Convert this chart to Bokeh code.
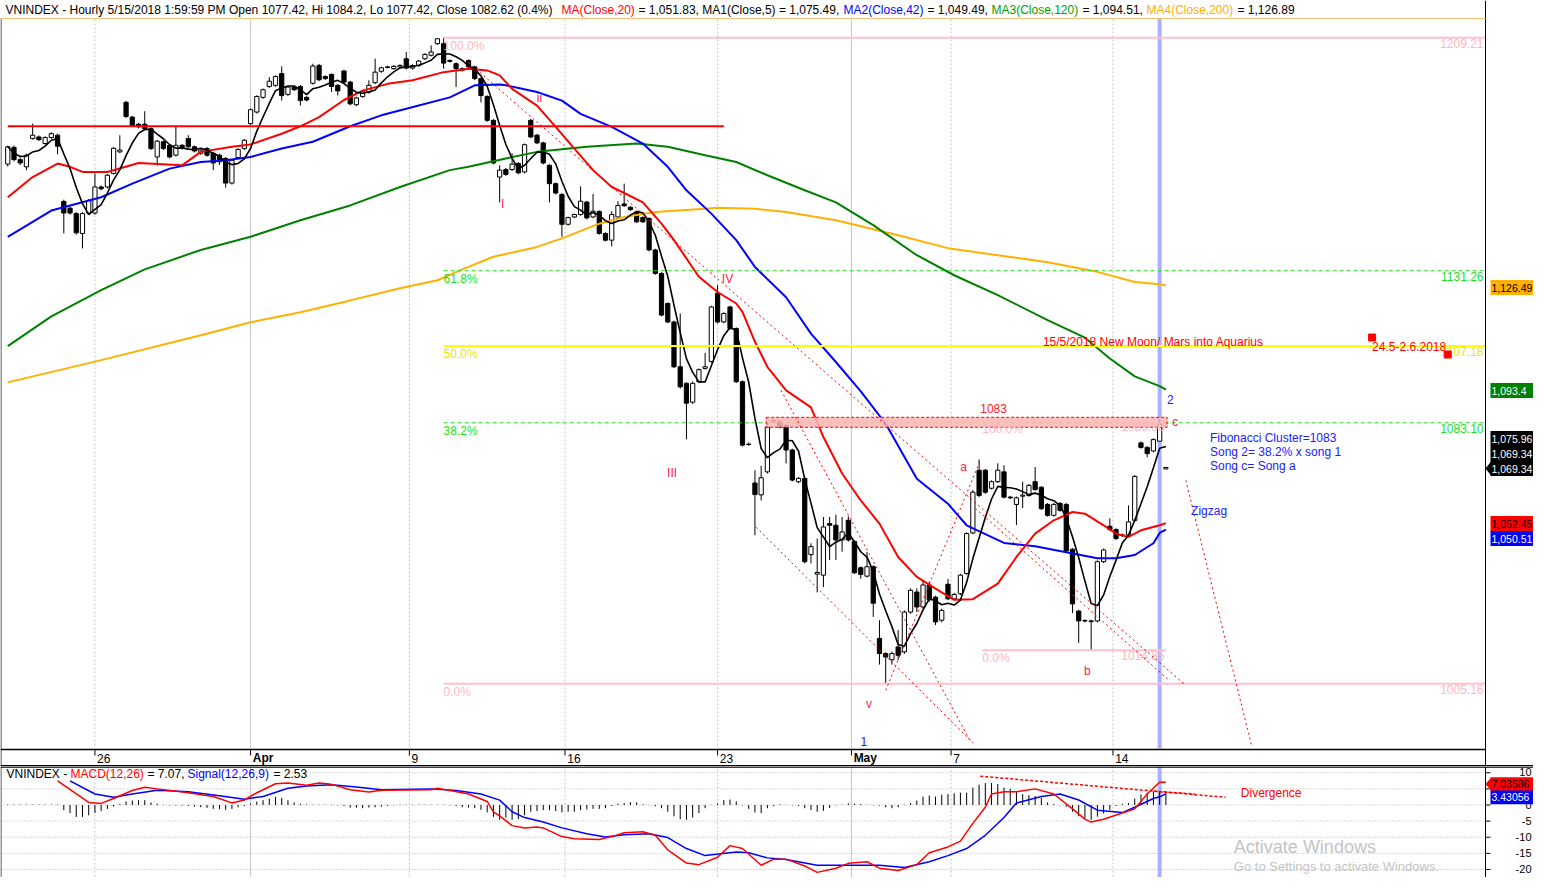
import math
import pandas as pd
from bokeh.plotting import figure
from bokeh.layouts import column
from bokeh.models import Range1d
from bokeh.embed import file_html
from bokeh.resources import INLINE
from bokeh.core.properties import value

# ---------------- DATA ----------------
bar_open = [1166.3,1171.9,1167.8,1165.4,1174.9,1175.4,1173.2,1175.2,1176.0,1153.9,
            1151.7,1149.9,1143.4,1150.1,1150.1,1158.7,1158.7,1163.2,1170.4,1187.1,
            1182.1,1179.7,1179.7,1178.2,1168.7,1173.8,1172.6,1169.3,1172.6,1174.9,
            1172.1,1169.9,1171.5,1169.9,1169.3,1168.2,1160.0,1168.5,1171.5,1179.9,
            1183.8,1188.8,1192.5,1192.9,1196.9,1189.8,1192.3,1192.5,1188.8,1193.6,
            1199.7,1195.9,1196.6,1192.9,1197.8,1194.0,1186.3,1189.1,1190.6,1193.8,
            1197.7,1199.2,1198.6,1199.2,1202.0,1198.8,1199.7,1202.0,1203.2,1207.2,
            1207.2,1201.4,1200.3,1198.6,1201.4,1199.2,1195.2,1189.1,1181.0,1162.0,
            1164.5,1164.5,1166.5,1163.7,1181.0,1176.0,1173.4,1165.9,1159.8,1156.2,
            1146.4,1148.8,1149.6,1153.7,1148.8,1150.6,1143.4,1141.2,1148.8,1153.1,
            1152.0,1150.4,1148.6,1148.3,1138.0,1130.4,1120.7,1114.8,1100.6,1095.4,
            1089.5,1095.9,1100.1,1102.3,1124.0,1114.8,1119.6,1112.7,1095.9,1076.5,
            1064.6,1061.0,1068.0,1083.4,1083.3,1082.3,1074.7,1065.0,1066.0,1043.0,
            1037.2,1036.9,1052.3,1051.8,1047.4,1053.3,1046.9,1039.1,1036.6,1039.4,
            1018.3,1013.9,1012.1,1015.8,1014.4,1026.0,1031.9,1027.5,1034.0,1030.4,
            1023.6,1034.2,1029.9,1031.4,1037.4,1049.5,1068.5,1068.5,1063.0,1065.0,
            1068.0,1060.3,1058.1,1060.6,1060.8,1065.0,1063.3,1058.1,1054.8,1058.4,
            1058.1,1044.6,1026.3,1023.5,1023.4,1023.4,1040.9,1051.5,1050.5,1048.9,
            1048.9,1053.3,1076.9,1075.5,1074.4,1077.42,1068.9]
bar_high = [1172.5,1172.5,1168.5,1169.8,1179.9,1175.9,1175.6,1177.0,1176.5,1154.5,
            1152.2,1150.4,1150.4,1154.7,1163.2,1159.2,1163.0,1172.0,1176.0,1187.6,
            1182.5,1180.1,1184.1,1178.6,1174.4,1174.2,1173.0,1179.0,1173.0,1176.0,
            1172.5,1171.4,1172.0,1170.3,1169.8,1168.7,1168.0,1171.6,1174.7,1185.0,
            1189.5,1191.8,1195.7,1196.3,1199.4,1192.7,1192.7,1193.0,1189.2,1200.3,
            1200.2,1196.3,1197.0,1193.3,1198.2,1194.4,1189.0,1191.3,1194.6,1202.0,
            1199.3,1199.6,1199.8,1200.1,1204.3,1200.1,1201.6,1203.9,1206.6,1209.0,
            1209.21,1201.8,1200.7,1199.0,1201.8,1199.6,1195.6,1189.5,1181.4,1165.9,
            1165.0,1169.9,1167.0,1173.2,1181.5,1176.4,1173.8,1166.3,1160.2,1156.7,
            1148.9,1149.9,1158.9,1154.1,1156.4,1151.0,1143.8,1150.7,1154.0,1159.8,
            1152.4,1150.8,1149.0,1148.7,1138.4,1130.8,1121.1,1115.2,1117.5,1095.8,
            1096.0,1100.1,1105.0,1120.0,1126.6,1117.9,1120.0,1113.1,1096.3,1077.0,
            1068.5,1069.9,1083.3,1084.4,1084.0,1082.7,1075.1,1066.4,1066.5,1046.4,
            1047.8,1054.3,1054.3,1055.0,1054.3,1054.5,1047.3,1039.5,1043.8,1039.8,
            1023.6,1014.3,1014.5,1020.7,1026.5,1033.0,1033.0,1035.5,1035.0,1030.8,
            1027.0,1035.8,1031.6,1037.3,1049.7,1062.5,1071.8,1068.9,1065.4,1070.6,
            1070.0,1060.7,1060.5,1065.0,1064.3,1069.5,1063.7,1058.5,1058.5,1058.8,
            1058.5,1045.0,1026.7,1023.9,1023.8,1041.3,1044.8,1053.9,1050.9,1049.3,
            1057.8,1067.0,1077.3,1075.9,1078.3,1084.2,1069.4]
bar_low = [1165.5,1167.2,1166.0,1164.3,1174.5,1174.0,1172.8,1174.8,1169.6,1143.4,
           1149.6,1143.0,1138.5,1149.5,1149.5,1157.6,1158.2,1162.8,1170.0,1181.8,
           1178.8,1178.3,1177.8,1171.0,1165.9,1171.0,1168.2,1168.8,1171.2,1171.7,
           1170.2,1169.4,1168.8,1164.3,1166.0,1158.5,1159.5,1168.0,1171.0,1179.4,
           1183.3,1188.3,1192.0,1192.4,1187.7,1189.3,1191.0,1186.0,1187.4,1193.1,
           1194.3,1194.7,1190.6,1189.4,1193.5,1186.1,1185.8,1188.6,1190.1,1193.3,
           1197.2,1198.7,1198.2,1198.8,1198.3,1198.3,1199.2,1201.6,1202.8,1206.8,
           1198.6,1200.7,1192.3,1197.6,1198.7,1194.7,1187.1,1180.5,1166.2,1153.6,
           1162.4,1164.0,1162.9,1163.2,1175.0,1173.0,1166.2,1153.6,1156.2,1142.3,
           1146.0,1148.4,1149.2,1148.0,1148.4,1143.0,1140.8,1139.2,1148.4,1152.1,
           1150.8,1146.8,1146.8,1137.6,1130.0,1116.6,1114.4,1100.2,1093.8,1078.0,
           1089.0,1095.5,1099.7,1101.8,1114.3,1114.4,1112.3,1095.5,1075.8,1076.0,
           1048.8,1059.3,1067.5,1083.0,1081.4,1070.6,1065.1,1064.5,1040.4,1040.4,
           1031.8,1033.4,1041.4,1041.4,1043.9,1046.9,1037.2,1035.8,1036.2,1024.6,
           1010.7,1005.16,1010.7,1012.0,1013.8,1025.5,1026.0,1027.0,1029.0,1022.2,
           1023.0,1029.5,1029.5,1031.0,1037.0,1049.1,1060.3,1061.3,1062.6,1064.6,
           1059.9,1059.7,1051.9,1057.0,1060.4,1062.2,1056.4,1054.4,1054.4,1055.9,
           1043.7,1025.7,1017.0,1023.0,1014.85,1023.0,1040.5,1050.1,1047.4,1048.3,
           1048.5,1052.9,1075.1,1072.5,1074.0,1077.42,1068.9]
bar_close = [1172.1,1167.8,1166.7,1169.3,1176.0,1174.5,1175.2,1176.5,1172.3,1150.1,
             1150.1,1143.6,1149.9,1154.2,1158.7,1158.1,1162.6,1171.6,1171.0,1182.3,
             1179.3,1178.8,1178.2,1171.5,1174.0,1171.5,1168.7,1172.6,1171.7,1172.1,
             1170.7,1171.0,1169.3,1166.7,1167.1,1160.0,1167.6,1171.2,1174.3,1184.6,
             1189.1,1191.4,1194.3,1195.9,1189.4,1192.3,1191.4,1187.7,1187.9,1199.5,
             1194.8,1195.2,1192.5,1191.0,1194.0,1186.6,1188.6,1190.9,1192.9,1197.4,
             1198.9,1199.0,1199.4,1199.7,1198.8,1199.7,1201.2,1203.5,1204.3,1208.9,
             1200.5,1201.1,1198.6,1198.1,1199.2,1195.2,1189.4,1181.0,1166.7,1164.3,
             1162.9,1166.3,1163.4,1172.8,1175.4,1173.4,1166.7,1159.8,1156.7,1146.4,
             1148.6,1149.6,1154.0,1148.5,1150.7,1143.4,1141.2,1149.6,1152.6,1152.5,
             1151.2,1147.2,1147.2,1138.0,1130.4,1117.0,1114.8,1100.6,1094.3,1089.2,
             1095.4,1099.7,1100.6,1119.6,1114.8,1117.5,1112.7,1095.9,1076.2,1076.4,
             1061.1,1066.2,1081.8,1083.9,1081.8,1074.7,1065.5,1066.0,1040.9,1045.4,
             1037.7,1051.3,1051.8,1047.4,1049.8,1047.4,1037.6,1037.1,1039.4,1028.6,
             1013.9,1012.9,1013.9,1013.4,1026.0,1032.4,1027.5,1034.0,1029.6,1023.1,
             1026.5,1029.9,1031.2,1036.9,1049.3,1061.8,1060.8,1061.8,1065.0,1068.5,
             1060.3,1060.1,1060.1,1060.9,1063.9,1062.6,1056.8,1054.8,1058.1,1056.3,
             1044.1,1028.4,1023.4,1023.4,1023.2,1040.9,1044.4,1050.5,1047.8,1048.7,
             1052.8,1066.6,1075.5,1073.6,1077.9,1082.62,1069.34]

ma20_bar = [0,4,8,10,12,16,21,28,31,36,39,44,47,50,54,57,61,65,70,74,77,79,81,85,88,91,94,97,99,102,
            105,107,111,114,117,118,120,122,125,129,131,134,137,140,143,146,149,152,155,159,162,165,
            168,171,173,176,178,180,182,185,186]
ma20_val = [1155.3,1162.0,1166.5,1165.4,1163.7,1163.7,1166.7,1165.9,1170.4,1172.1,1172.9,1176.5,1179.0,
            1182.1,1187.9,1191.1,1193.4,1194.6,1197.4,1198.6,1198.0,1196.3,1191.7,1186.0,1178.8,1171.5,
            1164.3,1158.7,1156.7,1153.6,1146.6,1141.2,1129.3,1124.4,1120.7,1118.0,1108.5,1100.6,1093.2,
            1087.9,1078.7,1067.5,1059.3,1052.3,1042.3,1036.4,1032.9,1029.6,1029.8,1034.4,1042.3,1049.3,
            1053.3,1055.8,1055.3,1051.8,1049.3,1048.3,1050.3,1051.83,1052.45]
ma42_bar = [0,7,15,20,26,31,35,39,44,49,55,60,64,71,75,79,80,85,89,92,97,102,106,109,113,117,120,125,
            129,133,137,141,146,151,154,160,165,170,175,178,181,184,185,186]
ma42_val = [1142.3,1150.9,1155.3,1159.8,1164.8,1167.0,1167.6,1168.7,1171.5,1173.8,1179.0,1182.7,1184.9,
            1188.8,1192.9,1193.2,1192.9,1190.6,1187.7,1183.2,1178.8,1173.2,1165.4,1157.6,1149.9,1141.2,
            1132.5,1122.7,1111.1,1102.1,1092.9,1082.8,1065.9,1058.3,1051.8,1046.5,1045.5,1043.7,1041.9,
            1041.9,1042.9,1046.4,1049.49,1050.51]
ma120_bar = [0,7,15,22,31,39,47,55,63,71,74,80,85,93,101,106,112,117,122,128,133,139,146,152,159,167,
             173,177,181,185,186]
ma120_val = [1107.1,1116.6,1125.0,1131.7,1138.0,1142.3,1147.7,1152.6,1158.7,1164.3,1165.4,1168.2,1170.4,
             1172.1,1173.2,1172.1,1169.3,1167.0,1162.6,1157.6,1153.6,1146.1,1136.3,1129.8,1123.4,1115.4,
             1109.8,1103.2,1097.6,1094.51,1093.4]
ma200_bar = [0,15,31,39,47,55,63,69,73,78,85,89,95,99,104,112,114,120,125,133,143,151,159,167,175,181,185,186]
ma200_val = [1095.7,1102.7,1110.6,1114.7,1117.9,1121.7,1125.6,1128.2,1131.7,1135.8,1139.0,1141.8,1146.6,
             1148.8,1150.4,1151.5,1151.8,1151.5,1150.4,1147.7,1142.8,1138.6,1136.3,1134.0,1130.9,1127.6,
             1126.89,1126.49]

macd_bar = [8,13,15,17,20,22,24,29,33,36,38,40,43,45,48,50,52,55,58,60,68,69,71,74,77,78,79,81,83,85,
            86,89,91,95,97,99,102,104,106,109,111,114,116,118,121,123,125,128,130,133,135,138,140,143,146,
            148,151,153,155,157,158,160,162,165,168,171,173,174,176,179,181,183,185,186]
macd_val = [7.5,0.8,0.5,2.0,4.5,5.5,5.0,3.8,2.65,0.65,1.55,3.8,6.6,6.8,6.1,6.8,6.4,4.75,4.0,4.6,
            4.75,5.2,4.5,3.4,1.1,-2.1,-3.4,-6.4,-7.1,-6.8,-7.1,-9.8,-10.5,-10.7,-9.8,-8.6,-8.3,-9.4,-13.9,-18.0,
            -18.5,-16.2,-12.6,-13.5,-18.7,-16.8,-16.8,-18.9,-20.9,-19.6,-18.1,-17.6,-19.6,-20.3,-18.5,-14.8,
            -13.0,-11.2,-5.7,-0.7,3.4,4.1,4.1,5.0,3.4,-1.2,-4.4,-5.3,-4.4,-2.5,-1.2,3.4,7.07,7.04]
signal_bar = [10,14,17,20,24,29,34,38,41,45,48,52,56,60,68,72,76,79,81,83,86,89,93,96,99,103,106,109,
              112,117,119,122,125,130,136,140,144,148,151,154,157,160,162,166,169,172,175,179,181,184,185,186]
signal_val = [7.5,3.4,2.4,3.4,4.6,4.1,2.9,1.75,2.65,5.2,5.9,6.3,5.6,4.75,5.0,4.5,3.4,1.5,-2.1,-3.9,
              -5.3,-7.1,-8.9,-9.9,-9.2,-8.9,-10.1,-13.5,-15.7,-14.6,-14.8,-16.4,-16.9,-18.7,-18.7,-18.7,
              -19.4,-17.6,-15.7,-13.5,-9.4,-3.9,0.65,2.65,3.4,1.55,-1.6,-2.35,-0.7,2.0,2.53,3.43]
macd_hist = [0.15,0.15,0.15,0.15,0.15,0.15,0.15,0.15,0.15,
             -1.6,-2.5,-3.7,-3.7,-3.2,-2.5,-1.9,-1.2,-0.5,
             0.3,1.1,1.4,1.5,1.5,0.8,0.4,
             0.1,-0.1,-0.2,-0.2,-0.3,-0.5,
             -0.7,-0.9,-1.2,-1.3,-1.5,-1.2,-0.7,-0.3,
             0.4,1.1,1.5,2.0,2.5,2.2,1.5,0.8,0.4,0.2,
             0.1,0.1,0.1,0.1,-0.1,-0.3,
             -0.8,-0.8,-1.0,-0.8,-0.7,-0.5,-0.3,
             -0.1,0.1,0.1,0.1,0.1,0.1,0.1,0.1,0.1,
             -0.1,-0.3,-0.7,-0.8,-1.0,-1.5,-2.3,-3.7,
             -4.6,-3.9,-4.6,-4.4,-3.2,-2.1,-1.9,-1.6,-1.6,-1.9,
             -2.3,-2.1,-2.1,-1.6,-1.4,-1.2,-1.2,-1.0,-0.3,0.4,
             0.6,0.9,0.8,0.2,0.05,-0.4,-1.0,-2.1,-3.5,-4.4,
             -4.6,-3.9,-2.5,-1.0,0.05,0.4,1.5,1.7,1.1,-0.1,
             -1.2,-2.3,-2.5,-1.0,-0.3,0.2,0.1,-0.1,-0.3,-1.0,
             -1.6,-2.1,-1.8,-0.9,-0.1,0.1,0.5,0.4,0.3,0.1,
             -0.1,-0.2,-0.7,-1.0,-0.7,0.1,0.6,1.4,2.6,2.9,
             2.6,3.2,3.4,3.6,3.8,3.8,5.4,6.3,6.8,6.8,
             6.5,5.4,5.0,4.0,3.4,3.1,2.8,2.2,0.8,0.3,
             -0.1,-0.5,-2.1,-3.5,-4.1,-4.6,-3.6,-2.6,-1.5,-0.3,
             0.3,0.6,2.0,3.3,3.8,4.1,4.1,3.8]

date_tick_bar = [14, 39, 64.5, 89.5, 114, 135.5, 151.5, 177.5]
date_tick_label = ["26", "Apr", "9", "16", "23", "May", "7", "14"]
date_tick_month = [False, True, False, False, False, True, False, False]
macd_ticks = [10, 5, 0, -5, -10, -15, -20]

fib_main_levels = [1209.21, 1131.26, 1107.18, 1083.10, 1005.16]
fib_main_pct = ["100.0%", "61.8%", "50.0%", "38.2%", "0.0%"]
fib_main_start_bar = 70
fib_small_levels = [1083.58, 1014.85]
fib_small_pct = ["100.0%", "0.0%"]
fib_small_bars = [156.5, 186]
resistance_level = 1179.0
resistance_bars = [0, 115]
cluster_zone = [1081.7, 1084.8]
cluster_bars = [121.8, 186.2]
selected_bar = 185

# trend lines as (bar, price) pairs
trend_lines = [((74, 1200.7), (189, 1005.0)),
               ((120.2, 1051.2), (155.1, 988.2)),
               ((124.2, 1093.2), (154.6, 988.8)),
               ((141.0, 1003.3), (156.2, 1071.6)),
               ((155.4, 1056.9), (186.5, 1006.2)),
               ((189.2, 1065.4), (199.8, 987.3))]
wave_labels = [("I", 79.5, 1153.0, "#ff1a4a"), ("ii", 85.4, 1188.5, "#ff1a4a"),
               ("III", 106.7, 1067.6, "#ff1a4a"), ("IV", 115.6, 1128.5, "#ff1a4a"),
               ("v", 138.3, 999.3, "#ff1a4a"), ("a", 153.5, 1069.5, "#ff1a4a"),
               ("b", 173.4, 1008.9, "#ff1a4a"), ("c", 187.5, 1083.3, "#ff1a4a"),
               ("1", 137.5, 988.8, "#2020ff"), ("2", 186.7, 1090.2, "#2020ff")]
macd_div_lines = [((156.2, 8.93), (195.6, 2.38)), ((184.0, 4.3), (190.7, 3.4))]

# ---------------- LAYOUT HELPERS ----------------
W, H_MAIN, H_MACD = 1533, 766, 111
X0, XS = 7.3, 6.26
K = 1485.0 / 1493.0          # horizontal screen px per reference px


def BX(px):
    return (px - X0) / XS


def SXB(s):                  # screen px -> bar units
    return BX(s / K)


def PY(yr):
    return 1005.16 * math.exp((683.3 - yr) / 3495.0)


def YPX(price):
    return 683.3 - 3495.0 * math.log(price / 1005.16)


def MY(yr):
    return (810.7 - yr) / 3.66


FONT = value("Liberation Sans")


def txt(fig, x, y, s, color="black", size="12px", align="left", baseline="middle", style="normal"):
    fig.text(x=[x], y=[y], text=[s], text_color=color, text_font=FONT, text_font_size=size,
             text_align=align, text_baseline=baseline, text_font_style=style)


def hline(fig, x0, x1, y, color, width=1, dash="solid"):
    fig.segment(x0=[x0], y0=[y], x1=[x1], y1=[y], line_color=color, line_width=width, line_dash=dash)


def vline(fig, x, y0, y1, color, width=1, dash="solid"):
    fig.segment(x0=[x], y0=[y0], x1=[x], y1=[y1], line_color=color, line_width=width, line_dash=dash)


def new_fig(h, xr, yr, log=False):
    f = figure(width=W, height=h, x_range=xr, y_range=yr,
               y_axis_type="log" if log else "linear",
               toolbar_location=None, output_backend="svg", min_border=0,
               min_border_left=0, min_border_right=0, min_border_top=0, min_border_bottom=0,
               x_axis_location=None, y_axis_location=None, outline_line_color=None)
    f.xgrid.grid_line_color = None
    f.ygrid.grid_line_color = None
    f.background_fill_color = "white"
    f.border_fill_color = "white"
    return f


xr = Range1d(BX(0), SXB(W))
p = new_fig(H_MAIN, xr, Range1d(PY(766), PY(0)), log=True)

# vertical date grid lines
for b, m in zip(date_tick_bar, date_tick_month):
    vline(p, b, PY(19), PY(748), "#c4c4c4", 1, "solid" if m else "2 2")

# selected bar highlight
vline(p, selected_bar, PY(18), PY(748), "#aab0ff", 4)

# candles
idx = list(range(len(bar_close)))
p.segment(x0=idx, y0=bar_low, x1=idx, y1=bar_high, line_color="black", line_width=1)
up = [i for i in idx if bar_close[i] >= bar_open[i]]
dn = [i for i in idx if bar_close[i] < bar_open[i]]
p.vbar(x=up, width=0.68, top=[bar_close[i] for i in up], bottom=[bar_open[i] for i in up],
       fill_color="white", line_color="black", line_width=1)
p.vbar(x=dn, width=0.68, top=[bar_open[i] for i in dn], bottom=[bar_close[i] for i in dn],
       fill_color="black", line_color="black", line_width=1)

# moving averages
p.line(ma200_bar, ma200_val, line_color="#ffb000", line_width=2)
p.line(ma120_bar, ma120_val, line_color="#008000", line_width=2)
p.line(ma42_bar, ma42_val, line_color="#0000ff", line_width=2)
p.line(ma20_bar, ma20_val, line_color="#ff0000", line_width=2)
ma5 = pd.Series(bar_close).rolling(5, min_periods=1).mean().tolist()
p.line(idx, ma5, line_color="black", line_width=1.6)

# resistance line
hline(p, resistance_bars[0], resistance_bars[1], resistance_level, "#ff0000", 2)

# main fibonacci
fib_end = BX(1493)
fib_styles = [("#ffc0cb", 2, "solid", "#ffb6c1"), ("#22dd22", 1, "4 3", "#22dd22"),
              ("#ffff00", 2, "solid", "#e6e600"), ("#22dd22", 1, "4 3", "#22dd22"),
              ("#ffc0cb", 2, "solid", "#ffb6c1")]
for lev, pct, (lc, lw, ld, tc) in zip(fib_main_levels, fib_main_pct, fib_styles):
    hline(p, fib_main_start_bar, fib_end, lev, lc, lw, ld)
    ty = PY(YPX(lev) + 1)
    txt(p, fib_main_start_bar, ty, pct, tc, baseline="top")
    txt(p, BX(1491), ty, "%.2f" % lev, tc, align="right", baseline="top")

# cluster zone
p.quad(left=[cluster_bars[0]], right=[cluster_bars[1]], bottom=[cluster_zone[0]], top=[cluster_zone[1]],
       fill_color="#ffb4b4", fill_alpha=0.85, line_color="#ff0000", line_dash="3 2", line_width=1)
txt(p, BX(985), PY(408), "1083", "#ff2020")

# small fibonacci
hline(p, fib_small_bars[0], fib_small_bars[1], fib_small_levels[1], "#ffc0cb", 2)
for lev, pct in zip(fib_small_levels, fib_small_pct):
    ty = PY(YPX(lev) + 1)
    txt(p, fib_small_bars[0], ty, pct, "#ffb6c1", baseline="top")
    txt(p, fib_small_bars[1] - 0.2, ty, "%.2f" % lev, "#ffb6c1", align="right", baseline="top")

# trend lines
for (a, b) in trend_lines:
    p.line([a[0], b[0]], [a[1], b[1]], line_color="#ff0000", line_width=1, line_dash="2 3")

# wave labels
for s, bx_, pr, c in wave_labels:
    txt(p, bx_, pr, s, c, align="center")

# annotations
txt(p, BX(1216), PY(437), "Fibonacci Cluster=1083", "#2020ff")
txt(p, BX(1216), PY(451), "Song 2= 38.2% x song 1", "#2020ff")
txt(p, BX(1216), PY(465), "Song c= Song a", "#2020ff")
txt(p, BX(1197), PY(510), "Zigzag", "#2020ff")
txt(p, BX(1048), PY(341), "15/5/2018 New Moon/ Mars into Aquarius", "#ff0000")
txt(p, BX(1379), PY(346), "24.5-2.6.2018", "#ff0000")
p.scatter(x=[BX(1379), BX(1455)], y=[PY(337), PY(354)], marker="square", size=7,
          fill_color="#ff0000", line_color="#ff0000")

# frame lines
vline(p, SXB(0.5), PY(18), PY(766), "#303030", 1)
vline(p, BX(1493), PY(0), PY(766), "black", 1)
hline(p, BX(0), BX(1493), PY(18), "#f0c27a", 1)
hline(p, BX(0), BX(1493), PY(749), "black", 1.5)
hline(p, BX(0), SXB(W), PY(765.3), "black", 1.5)

# date axis labels
for b, lab, m in zip(date_tick_bar, date_tick_label, date_tick_month):
    vline(p, b, PY(749), PY(755), "black", 1)
    txt(p, b + 0.35, PY(757.5), lab, "black", "12px", style="bold" if m else "normal")

# title (segment positions in screen px, from Arial-like text widths)
title_parts = [(5, "VNINDEX - Hourly 5/15/2018 1:59:59 PM Open 1077.42, Hi 1084.2, Lo 1077.42, Close 1082.62 (0.4%)", "black"),
               (561, "MA(Close,20)", "#ff0000"),
               (638, "= 1,051.83, MA1(Close,5) = 1,075.49,", "black"),
               (843, "MA2(Close,42)", "#0000ff"),
               (927, "= 1,049.49,", "black"),
               (991, "MA3(Close,120)", "#00a000"),
               (1082, "= 1,094.51,", "black"),
               (1146, "MA4(Close,200)", "#ffb000"),
               (1237, "= 1,126.89", "black")]
for s_, s, c in title_parts:
    txt(p, SXB(s_), PY(9), s, c)

# right value boxes (screen px positions, so the labels fit inside the page)
BOX_L, TXT_L, ARROW_TIP = 1490, 1491, 1485
main_boxes = [(287, "1,126.49", "#ffb000", "black", False),
              (390, "1,093.4", "#008000", "white", False),
              (438, "1,075.96", "black", "white", False),
              (453, "1,069.34", "black", "white", False),
              (468, "1,069.34", "black", "white", True),
              (523, "1,052.45", "#ff0000", "black", False),
              (538, "1,050.51", "#0000ff", "white", False)]
for yc, s, bg, fg, arrow in main_boxes:
    p.quad(left=[SXB(BOX_L)], right=[SXB(W + 5)], top=[PY(yc - 7.5)], bottom=[PY(yc + 7.5)],
           fill_color=bg, line_color=None)
    if arrow:
        p.patch(x=[SXB(ARROW_TIP), SXB(BOX_L + 1), SXB(BOX_L + 1)],
                y=[PY(yc), PY(yc - 7.5), PY(yc + 7.5)], fill_color=bg, line_color=None)
    txt(p, SXB(TXT_L), PY(yc), s, fg, "10.5px")

# ---------------- MACD PANEL ----------------
q = new_fig(H_MACD, xr, Range1d(MY(893), MY(767)))
for v in macd_ticks:
    hline(q, BX(0), BX(1493), v, "#b4b4b4", 1, "1 2")
for b, m in zip(date_tick_bar, date_tick_month):
    vline(q, b, MY(767), MY(893), "#c4c4c4", 1, "solid" if m else "2 2")
vline(q, selected_bar, MY(767), MY(893), "#aab0ff", 4)

q.segment(x0=idx, y0=[0] * len(idx), x1=idx, y1=macd_hist, line_color="black", line_width=1)
q.line(signal_bar, signal_val, line_color="#0000ff", line_width=1.5)
q.line(macd_bar, macd_val, line_color="#ff0000", line_width=1.5)
for (a, b) in macd_div_lines:
    q.line([a[0], b[0]], [a[1], b[1]], line_color="#ff0000", line_width=1.5, line_dash="3 2")
txt(q, BX(1247), MY(797), "Divergence", "#ff0000")

# frame
vline(q, SXB(0.5), MY(767), MY(893), "#303030", 1)
vline(q, BX(1493), MY(767), MY(893), "black", 1)
hline(q, BX(0), SXB(W), MY(767.6), "black", 1.5)

# axis ticks and labels
for v in macd_ticks:
    hline(q, BX(1493), BX(1498), v, "black", 1)
    if v == macd_ticks[0]:
        txt(q, SXB(W - 2), MY(768.5), str(v), "black", "11px", align="right", baseline="top")
    else:
        txt(q, SXB(W - 2), v, str(v), "black", "11px", align="right")

macd_boxes = [(787, "7.03586", "#ff0000", "black", True), (802, "3.43056", "#0000ff", "white", False)]
for yc, s, bg, fg, arrow in macd_boxes:
    q.quad(left=[SXB(BOX_L)], right=[SXB(W + 5)], top=[MY(yc - 7.8)], bottom=[MY(yc + 7.8)],
           fill_color=bg, line_color=None)
    if arrow:
        q.patch(x=[SXB(ARROW_TIP), SXB(BOX_L + 1), SXB(BOX_L + 1)],
                y=[MY(yc), MY(yc - 7.8), MY(yc + 7.8)], fill_color=bg, line_color=None)
    txt(q, SXB(TXT_L), MY(yc), s, fg, "10.5px")

macd_title = [(6, "VNINDEX -", "black"), (70, "MACD(12,26)", "#ff0000"), (147, "= 7.07,", "black"),
              (187, "Signal(12,26,9)", "#0000ff"), (273, "= 2.53", "black")]
for s_, s, c in macd_title:
    txt(q, SXB(s_), MY(776), s, c)

txt(q, BX(1240), MY(858), "Activate Windows", "#c4c4c4", "18px")
txt(q, BX(1240), MY(881), "Go to Settings to activate Windows.", "#c4c4c4", "13px")

layout = column(p, q, spacing=0)
open("out.html", "w").write(file_html(layout, INLINE))
